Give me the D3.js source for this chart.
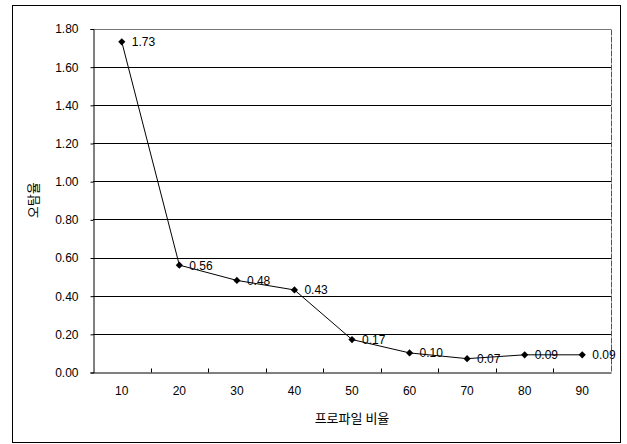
<!DOCTYPE html>
<html><head><meta charset="utf-8">
<script src="https://cdn.jsdelivr.net/npm/d3@7"></script>
<style>body{margin:0;background:#fff}svg{display:block}</style>
</head><body>
<script>
const categories = ["10","20","30","40","50","60","70","80","90"];
const values = [1.73,0.56,0.48,0.43,0.17,0.10,0.07,0.09,0.09];
const yTicks = [0,0.2,0.4,0.6,0.8,1.0,1.2,1.4,1.6,1.8];
const xTitle = "프로파일 비율";
const yTitle = "오탐율";

const W=627,H=444;
const m={left:93,right:16,top:28.5,bottom:72};
const svg=d3.select("body").append("svg").attr("width",W).attr("height",H);
const font="'Liberation Sans', Arial, sans-serif";
const kfont="'Noto Sans CJK KR', sans-serif";

svg.append("rect").attr("x",12.5).attr("y",5.5).attr("width",608).attr("height",437)
  .attr("fill","none").attr("stroke","#000").attr("stroke-width",1);

const x=d3.scaleBand().domain(categories).range([m.left,W-m.right]).padding(0);
const y=d3.scaleLinear().domain([0,1.8]).range([H-m.bottom,m.top]);

const g=svg.append("g");
g.selectAll("line.grid").data(yTicks.filter(d=>d>0)).join("line")
  .attr("x1",m.left).attr("x2",W-m.right)
  .attr("y1",d=>Math.round(y(d))+0.5).attr("y2",d=>Math.round(y(d))+0.5)
  .attr("stroke",d=>d===1.8?"#777":"#000").attr("stroke-width",1);
g.append("line").attr("x1",W-m.right+0.5).attr("x2",W-m.right+0.5)
  .attr("y1",Math.round(y(1.8))+0.5).attr("y2",Math.round(y(0))+0.5)
  .attr("stroke","#555").attr("stroke-dasharray","6,1");

const yAxis=d3.axisLeft(y).tickValues(yTicks).tickFormat(d3.format(".2f")).tickSize(3).tickPadding(12);
const ya=svg.append("g").attr("transform",`translate(${m.left+0.5},0.5)`).call(yAxis);
ya.select(".domain").attr("stroke","#000");
ya.selectAll("text").attr("font-family",font).attr("font-size",12).attr("fill","#000");

const xAxis=d3.axisBottom(x).tickSize(0).tickPadding(14);
const xa=svg.append("g").attr("transform",`translate(0,${Math.round(y(0))+0.5})`).call(xAxis);
xa.select(".domain").attr("stroke","#000");
xa.selectAll("text").attr("font-family",font).attr("font-size",12).attr("fill","#000");
xa.selectAll("line.bt").data(categories.slice(1)).join("line").attr("class","bt")
  .attr("x1",d=>Math.round(x(d))+0.5).attr("x2",d=>Math.round(x(d))+0.5)
  .attr("y1",0).attr("y2",-4).attr("stroke","#000");

const cx=d=>x(d)+x.bandwidth()/2;
const line=d3.line().x((d,i)=>cx(categories[i])).y(d=>y(d));
svg.append("path").datum(values).attr("d",line).attr("fill","none").attr("stroke","#000").attr("stroke-width",1);
svg.selectAll("path.pt").data(values).join("path").attr("class","pt")
  .attr("d",d3.symbol(d3.symbolSquare,26))
  .attr("transform",(d,i)=>`translate(${cx(categories[i])},${y(d)}) rotate(45)`).attr("fill","#000");
svg.selectAll("text.lab").data(values).join("text").attr("class","lab")
  .attr("x",(d,i)=>cx(categories[i])+10).attr("y",d=>y(d)+4.5)
  .attr("font-family",font).attr("font-size",12).attr("fill","#000")
  .text(d=>d.toFixed(2));

svg.append("text").attr("x",(m.left+W-m.right)/2).attr("y",423).attr("text-anchor","middle")
  .attr("font-family",kfont).attr("font-size",13).attr("fill","#000").text(xTitle);
svg.append("text").attr("transform",`translate(38,${(y(0)+y(1.8))/2}) rotate(-90)`).attr("text-anchor","middle")
  .attr("font-family",kfont).attr("font-size",13).attr("fill","#000").text(yTitle);
</script>
</body></html>
